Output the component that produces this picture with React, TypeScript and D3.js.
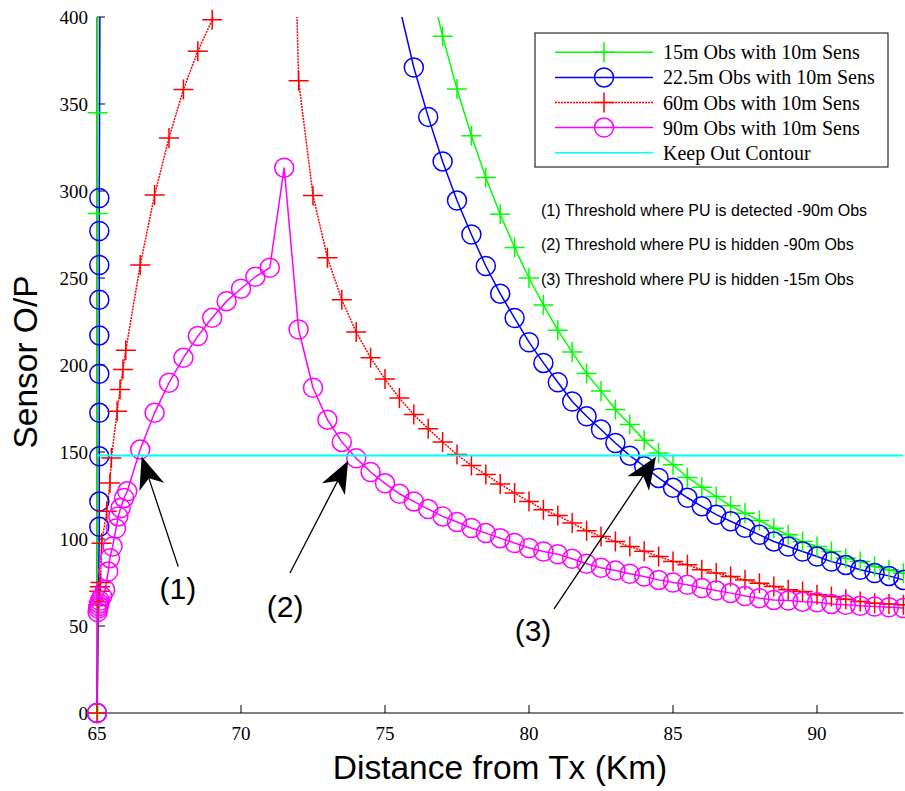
import * as d3 from "d3";
import React from "react";

// [distance km, sensor output]
const obs15: [number, number][] = [
  [65.02, 0], [65.02, 287], [65.02, 345], [65.5, 3000], [70, 1200], [75, 560], [76, 460],
  [76.5, 424], [77, 389], [77.5, 358.6], [78, 331.7], [78.5, 307.8], [79, 286.6], [79.5, 267.5],
  [80, 250], [80.5, 234.5], [81, 220], [81.5, 207.4], [82, 195.1], [82.5, 185], [83, 174.4],
  [83.5, 165.8], [84, 156.7], [84.5, 149.4], [85, 142.7], [85.5, 135.4], [86, 129.8],
  [86.5, 124.4], [87, 119.1], [87.5, 114.8], [88, 110.6], [88.5, 106.2], [89, 102.4],
  [89.5, 98.5], [90, 95.7], [90.5, 92.8], [91, 89], [91.5, 87], [92, 84.2], [92.5, 82.3], [93, 80.3],
];

const obs225: [number, number][] = [
  [65.0, 0], [65.08, 107], [65.08, 121.5], [65.08, 147.5], [65.08, 172.5], [65.08, 195],
  [65.08, 217], [65.08, 237.5], [65.08, 257.5], [65.08, 277], [65.08, 296], [65.6, 3000],
  [70, 1400], [75, 450], [75.5, 406], [76, 371], [76.5, 342.6], [77, 317], [77.5, 294.5],
  [78, 275], [78.5, 256.9], [79, 241], [79.5, 227], [80, 213.1], [80.5, 201.2], [81, 190.1],
  [81.5, 179], [82, 170.5], [82.5, 162.9], [83, 155.2], [83.5, 147.9], [84, 141.8], [84.5, 135.1],
  [85, 129.4], [85.5, 123.7], [86, 118.8], [86.5, 114], [87, 110.2], [87.5, 106.4], [88, 102.4],
  [88.5, 98.6], [89, 95.7], [89.5, 92.8], [90, 89.9], [90.5, 87], [91, 85.1], [91.5, 82.3],
  [92, 80.4], [92.5, 78.8], [93, 76.5],
];

const obs60: [number, number][] = [
  [65.0, 0], [65.04, 62], [65.06, 64], [65.08, 70], [65.1, 72.5], [65.12, 75], [65.16, 97.6],
  [65.34, 115.9], [65.45, 132.2], [65.5, 146.6], [65.7, 173.4], [65.8, 185.9], [65.9, 197.4],
  [66, 208.5], [66.5, 257.4], [67, 297.7], [67.5, 330.4], [68, 358.3], [68.5, 380.3], [69, 398.4],
  [69.5, 418], [70, 445], [70.5, 490], [71, 570], [71.5, 700], [72, 363.4], [72.5, 297.4],
  [73, 261.7], [73.5, 237.5], [74, 218.9], [74.5, 204.1], [75, 191.9], [75.5, 181], [76, 171.5],
  [76.5, 163.3], [77, 155.8], [77.5, 148.5], [78, 142.3], [78.5, 137], [79, 131.6], [79.5, 126.4],
  [80, 121.6], [80.5, 116.8], [81, 113.5], [81.5, 109.2], [82, 104.8], [82.5, 101.5], [83, 98.6],
  [83.5, 95.7], [84, 92.9], [84.5, 90], [85, 87.1], [85.5, 85.2], [86, 82.3], [86.5, 80.4],
  [87, 78.4], [87.5, 76.5], [88, 74.6], [88.5, 72.7], [89, 70.8], [89.5, 69.8], [90, 67.9],
  [90.5, 66.9], [91, 65.4], [91.5, 64.1], [92, 63.1], [92.5, 62.7], [93, 62.2],
];

const obs90: [number, number][] = [
  [65.0, 0], [65.02, 58], [65.04, 60], [65.06, 61.5], [65.08, 63], [65.1, 64.5], [65.18, 67],
  [65.28, 70.8], [65.39, 81.3], [65.45, 89], [65.54, 95.7], [65.66, 106], [65.74, 113],
  [65.82, 117.8], [65.94, 123.6], [66.05, 127.4], [66.5, 151.4], [67, 172.5], [67.5, 189.8],
  [68, 204.1], [68.5, 216.6], [69, 227.1], [69.5, 236.7], [70, 243.8], [70.5, 250.7], [71, 255.9],
  [71.5, 313.4], [72, 220.4], [72.5, 186.9], [73, 168.6], [73.5, 155.8], [74, 146.4], [74.5, 138.5],
  [75, 132], [75.5, 126], [76, 121.6], [76.5, 117.2], [77, 113], [77.5, 109.8], [78, 106.3],
  [78.5, 103.4], [79, 100.5], [79.5, 97.7], [80, 94.8], [80.5, 92.8], [81, 91.2], [81.5, 88.6],
  [82, 85.8], [82.5, 83.5], [83, 81.9], [83.5, 80], [84, 78.4], [84.5, 76.5], [85, 75],
  [85.5, 73.7], [86, 71.8], [86.5, 70.4], [87, 68.9], [87.5, 67.2], [88, 66], [88.5, 65],
  [89, 64.6], [89.5, 64], [90, 63.6], [90.5, 62.7], [91, 62.2], [91.5, 61.6], [92, 61.2],
  [92.5, 60.8], [93, 60.3],
];

const keepOut = 148;
const xTicks = [65, 70, 75, 80, 85, 90];
const yTicks = [0, 50, 100, 150, 200, 250, 300, 350, 400];

const legendLabels = [
  "15m Obs with 10m Sens",
  "22.5m Obs with 10m Sens",
  "60m Obs with 10m Sens",
  "90m Obs with 10m Sens",
  "Keep Out Contour",
];
const notes = [
  "(1) Threshold where PU is detected -90m Obs",
  "(2) Threshold where PU is hidden -90m Obs",
  "(3) Threshold where PU is hidden -15m Obs",
];
// arrows in data units: tail, tip, label centre
const arrows = [
  { label: "(1)", tail: [67.82, 84.1], tip: [66.55, 147.4], at: [67.81, 71.3] },
  { label: "(2)", tail: [71.7, 80.5], tip: [73.72, 145], at: [71.53, 61] },
  { label: "(3)", tail: [80.87, 59.8], tip: [84.41, 147.2], at: [80.14, 47.7] },
];

const serif = "'Liberation Serif', 'Times New Roman', serif";
const sans = "'Liberation Sans', Arial, sans-serif";

const x = d3.scaleLinear().domain([65, 93]).range([97, 903.4]);
const y = d3.scaleLinear().domain([0, 400]).range([713, 17]);

const series = [
  { data: obs15, color: "#00ff00", marker: "plus", dash: undefined },
  { data: obs225, color: "#0000ff", marker: "circle", dash: undefined },
  { data: obs60, color: "#ff0000", marker: "plus", dash: "2,1" },
  { data: obs90, color: "#ff00ff", marker: "circle", dash: undefined },
];

function Marker({ kind, cx, cy, color }: { kind: string; cx: number; cy: number; color: string }) {
  if (kind === "plus")
    return <path d={`M${cx - 10},${cy}H${cx + 10}M${cx},${cy - 10}V${cy + 10}`} stroke={color} strokeWidth={1.5} fill="none" />;
  return <circle cx={cx} cy={cy} r={9.5} stroke={color} strokeWidth={1.5} fill="none" />;
}

export default function App() {
  const line = d3.line<[number, number]>().x((d) => x(d[0])).y((d) => y(d[1]));
  const inside = (d: [number, number]) => d[0] >= 65 && d[0] <= 93 && d[1] >= 0 && d[1] <= 400;

  return (
    <svg width={905} height={791} style={{ position: "absolute", left: 0, top: 0, background: "#fff" }}>
      <defs>
        <clipPath id="plot">
          <rect x={90} y={17} width={820} height={703} />
        </clipPath>
      </defs>

      {/* axes */}
      <line x1={x(65)} x2={x(93)} y1={y(0)} y2={y(0)} stroke="#000" />
      <line x1={x(65)} x2={x(65)} y1={y(0)} y2={y(400)} stroke="#000" />
      {xTicks.map((t) => (
        <g key={"x" + t}>
          <line x1={x(t)} x2={x(t)} y1={y(0)} y2={y(0) - 8} stroke="#000" />
          <text x={x(t)} y={y(0) + 20} textAnchor="middle" dominantBaseline="central" fontFamily={serif} fontSize={19}>
            {t}
          </text>
        </g>
      ))}
      {yTicks.map((t) => (
        <g key={"y" + t}>
          <line x1={x(65)} x2={x(65) + 8} y1={y(t)} y2={y(t)} stroke="#000" />
          <text x={88} y={y(t)} textAnchor="end" dominantBaseline="central" fontFamily={serif} fontSize={19}>
            {t}
          </text>
        </g>
      ))}

      {/* data */}
      <g clipPath="url(#plot)">
        {series.map((s, i) => (
          <path key={i} d={line(s.data) || ""} fill="none" stroke={s.color} strokeWidth={1.5} strokeDasharray={s.dash} />
        ))}
      </g>
      {series.map((s, i) => (
        <g key={"m" + i}>
          {s.data.filter(inside).map((d, j) => (
            <Marker key={j} kind={s.marker} cx={x(d[0])} cy={y(d[1])} color={s.color} />
          ))}
        </g>
      ))}
      <line x1={x(65)} x2={x(93)} y1={y(keepOut)} y2={y(keepOut)} stroke="#00ffff" strokeWidth={2} />

      {/* legend */}
      <rect x={535} y={33} width={353} height={134} fill="#fff" stroke="#000" />
      {legendLabels.map((lab, i) => {
        const ry = 52.3 + i * 25.1;
        const s = series[i];
        const color = s ? s.color : "#00ffff";
        return (
          <g key={lab}>
            <line x1={555} x2={653} y1={ry} y2={ry} stroke={color} strokeWidth={1.5} strokeDasharray={s ? s.dash : undefined} />
            {s && <Marker kind={s.marker} cx={604} cy={ry} color={color} />}
            <text x={663} y={ry} dominantBaseline="central" fontFamily={serif} fontSize={20}>
              {lab}
            </text>
          </g>
        );
      })}

      {/* notes */}
      {notes.map((n, i) => (
        <text key={n} x={541} y={210 + i * 34.7} dominantBaseline="central" fontFamily={sans} fontSize={16}>
          {n}
        </text>
      ))}

      {/* arrows */}
      {arrows.map((a) => {
        const tx = x(a.tail[0]), ty = y(a.tail[1]);
        const px = x(a.tip[0]), py = y(a.tip[1]);
        const len = Math.hypot(px - tx, py - ty);
        const ux = (px - tx) / len, uy = (py - ty) / len;
        const nx = -uy, ny = ux;
        const hl = 32, hw = 13, notch = 23;
        const c1 = [px - ux * hl + nx * hw, py - uy * hl + ny * hw];
        const c2 = [px - ux * hl - nx * hw, py - uy * hl - ny * hw];
        const nb = [px - ux * notch, py - uy * notch];
        return (
          <g key={a.label}>
            <line x1={tx} y1={ty} x2={nb[0]} y2={nb[1]} stroke="#000" strokeWidth={1.3} />
            <path d={`M${px},${py}L${c1[0]},${c1[1]}L${nb[0]},${nb[1]}L${c2[0]},${c2[1]}Z`} fill="#000" />
            <text x={x(a.at[0])} y={y(a.at[1])} textAnchor="middle" dominantBaseline="central" fontFamily={sans} fontSize={30}>
              {a.label}
            </text>
          </g>
        );
      })}

      {/* axis titles */}
      <text x={500} y={779} textAnchor="middle" fontFamily={sans} fontSize={33.5}>
        Distance from Tx (Km)
      </text>
      <text transform="translate(37,362) rotate(-90)" textAnchor="middle" fontFamily={sans} fontSize={33.5}>
        Sensor O/P
      </text>
    </svg>
  );
}
